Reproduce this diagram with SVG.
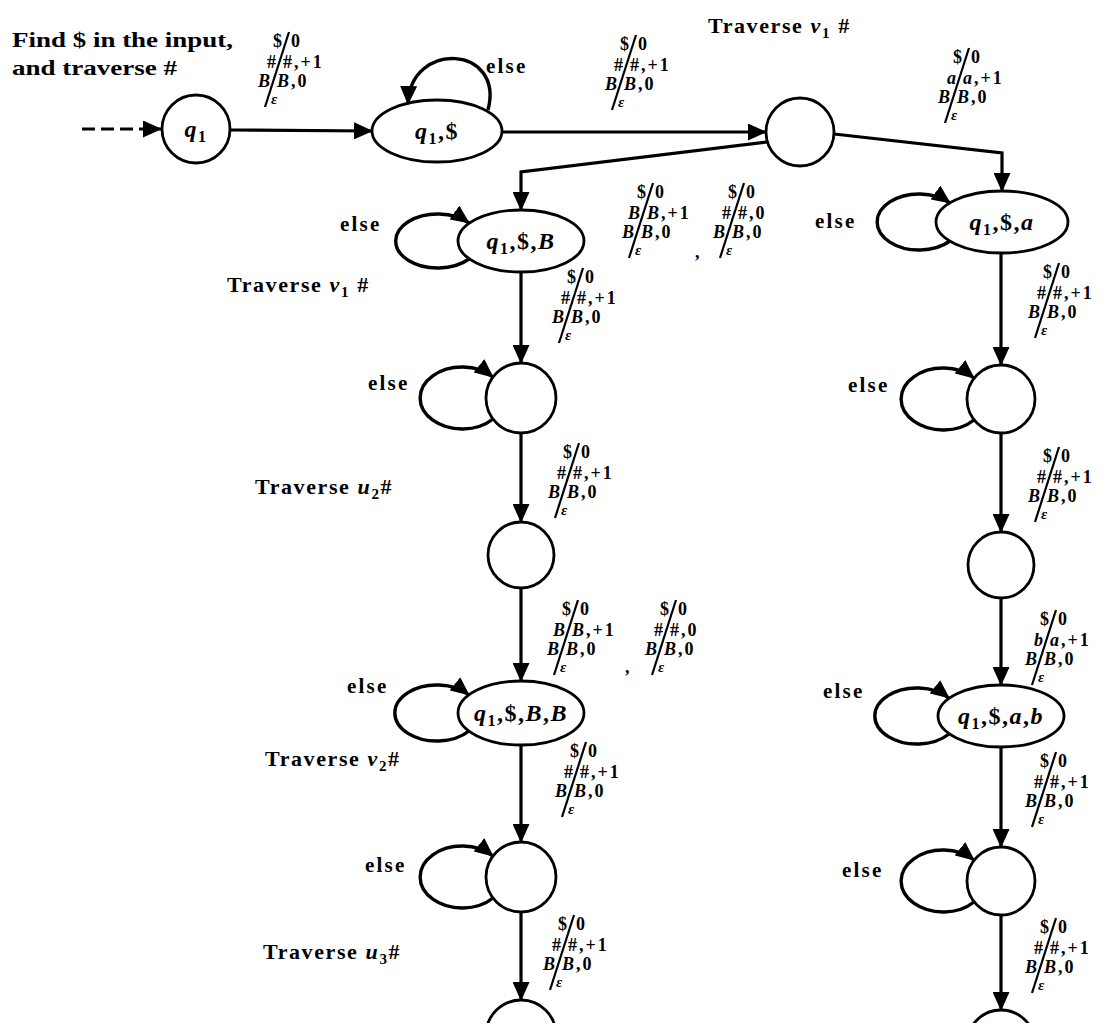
<svg xmlns="http://www.w3.org/2000/svg" width="1103" height="1023" viewBox="0 0 1103 1023">
<style>
.bg{fill:#fff}
.node{fill:#fff;stroke:#000;stroke-width:2.8}
.edge{fill:none;stroke:#000;stroke-width:3.2;marker-end:url(#ah)}
.loop{fill:none;stroke:#000;stroke-width:3.4;marker-end:url(#ah)}
.t{font-family:"Liberation Serif","Times New Roman",serif;font-weight:bold;fill:#000}
.lab{font-size:18px;letter-spacing:2px}
.eps{font-size:15px;font-style:italic}
.it{font-style:italic}
.nl{font-size:24px;letter-spacing:1.5px;text-anchor:middle}
.sl{stroke:#000;stroke-width:2.2}
.tr{font-size:22px;letter-spacing:1.6px}
.el{font-size:21px;letter-spacing:2.2px}
</style>
<defs>
<marker id="ah" markerWidth="19" markerHeight="17" refX="18" refY="8.5" orient="auto" markerUnits="userSpaceOnUse"><path d="M0,0 L19,8.5 L0,17 Z" fill="#000"/></marker>
</defs>
<rect class="bg" width="1103" height="1023"/>

<g id="texts" class="t">
<text x="12" y="47" font-size="22" textLength="221" lengthAdjust="spacingAndGlyphs">Find $ in the input,</text>
<text x="12" y="75" font-size="22" textLength="165" lengthAdjust="spacingAndGlyphs">and traverse #</text>
<text class="tr" x="708" y="33">Traverse <tspan class="it">v</tspan><tspan dy="5" font-size="15">1</tspan><tspan dy="-5"> #</tspan></text>
<text class="tr" x="227" y="292">Traverse <tspan class="it">v</tspan><tspan dy="5" font-size="15">1</tspan><tspan dy="-5"> #</tspan></text>
<text class="tr" x="255" y="494">Traverse <tspan class="it">u</tspan><tspan dy="5" font-size="15">2</tspan><tspan dy="-5">#</tspan></text>
<text class="tr" x="265" y="766">Traverse <tspan class="it">v</tspan><tspan dy="5" font-size="15">2</tspan><tspan dy="-5">#</tspan></text>
<text class="tr" x="263" y="959">Traverse <tspan class="it">u</tspan><tspan dy="5" font-size="15">3</tspan><tspan dy="-5">#</tspan></text>
<text class="el" x="486" y="73">else</text>
<text class="el" x="340" y="231">else</text>
<text class="el" x="815" y="228">else</text>
<text class="el" x="368" y="390">else</text>
<text class="el" x="848" y="392">else</text>
<text class="el" x="347" y="693">else</text>
<text class="el" x="823" y="698">else</text>
<text class="el" x="365" y="872">else</text>
<text class="el" x="842" y="877">else</text>
<text class="lab" x="695" y="258">,</text>
<text class="lab" x="625" y="673">,</text>
</g>

<g id="connectors">
<path class="edge" stroke-dasharray="13 6" d="M82,129 H161"/>
<path class="edge" d="M230,130 L372,131"/>
<path class="edge" d="M502,132 L766,132"/>
<path class="edge" d="M767,142 L521,172 L521,210"/>
<path class="edge" d="M834,134 L1002,153 L1002,191"/>
<path class="edge" d="M521,272 V363"/>
<path class="edge" d="M521,433 V522"/>
<path class="edge" d="M521,588 V681"/>
<path class="edge" d="M521,745 V842"/>
<path class="edge" d="M521,912 V1000"/>
<path class="edge" d="M1001,253 V365"/>
<path class="edge" d="M1001,433 V532"/>
<path class="edge" d="M1001,598 V685"/>
<path class="edge" d="M1001,747 V847"/>
<path class="edge" d="M1001,915 V1010"/>
<path class="loop" d="M488,110 C505,45 410,40 408,104"/>
<path class="loop" d="M469,259 A42 27 0 1 1 469,223"/>
<path class="loop" d="M469,731 A42 28 0 1 1 469,695"/>
<path class="loop" d="M950,241 A42 28 0 1 1 950,203"/>
<path class="loop" d="M949,734 A42 28 0 1 1 949,698"/>
<path class="loop" d="M493,419 A42 31 0 1 1 493,377"/>
<path class="loop" d="M493,898 A42 31 0 1 1 493,856"/>
<path class="loop" d="M974,420 A42 31 0 1 1 974,378"/>
<path class="loop" d="M974,902 A42 31 0 1 1 974,860"/>
</g>

<g id="labels" class="t lab">
<g id="lA" transform="translate(273,47)"><text x="0" y="0">$</text><text x="18" y="0">0</text><line class="sl" x1="16" y1="-15" x2="-8" y2="60"/><text x="5" y="21" text-anchor="end">#</text><text x="10" y="21">#,+1</text><text class="it" x="-1" y="40" text-anchor="end">B</text><text x="4" y="40"><tspan class="it">B</tspan>,0</text><text class="eps" x="-2" y="57">ε</text></g>
<g id="lB" transform="translate(620,50)"><text x="0" y="0">$</text><text x="18" y="0">0</text><line class="sl" x1="16" y1="-15" x2="-8" y2="60"/><text x="5" y="21" text-anchor="end">#</text><text x="10" y="21">#,+1</text><text class="it" x="-1" y="40" text-anchor="end">B</text><text x="4" y="40"><tspan class="it">B</tspan>,0</text><text class="eps" x="-2" y="57">ε</text></g>
<g id="lC" transform="translate(953,63)"><text x="0" y="0">$</text><text x="18" y="0">0</text><line class="sl" x1="16" y1="-15" x2="-8" y2="60"/><text class="it" x="5" y="21" text-anchor="end">a</text><text x="10" y="21"><tspan class="it">a</tspan>,+1</text><text class="it" x="-1" y="40" text-anchor="end">B</text><text x="4" y="40"><tspan class="it">B</tspan>,0</text><text class="eps" x="-2" y="57">ε</text></g>
<g id="lD" transform="translate(637,198)"><text x="0" y="0">$</text><text x="18" y="0">0</text><line class="sl" x1="16" y1="-15" x2="-8" y2="60"/><text class="it" x="5" y="21" text-anchor="end">B</text><text x="10" y="21"><tspan class="it">B</tspan>,+1</text><text class="it" x="-1" y="40" text-anchor="end">B</text><text x="4" y="40"><tspan class="it">B</tspan>,0</text><text class="eps" x="-2" y="57">ε</text></g>
<g id="lE" transform="translate(728,198)"><text x="0" y="0">$</text><text x="18" y="0">0</text><line class="sl" x1="16" y1="-15" x2="-8" y2="60"/><text x="5" y="21" text-anchor="end">#</text><text x="10" y="21">#,0</text><text class="it" x="-1" y="40" text-anchor="end">B</text><text x="4" y="40"><tspan class="it">B</tspan>,0</text><text class="eps" x="-2" y="57">ε</text></g>
<g id="lF" transform="translate(567,283)"><text x="0" y="0">$</text><text x="18" y="0">0</text><line class="sl" x1="16" y1="-15" x2="-8" y2="60"/><text x="5" y="21" text-anchor="end">#</text><text x="10" y="21">#,+1</text><text class="it" x="-1" y="40" text-anchor="end">B</text><text x="4" y="40"><tspan class="it">B</tspan>,0</text><text class="eps" x="-2" y="57">ε</text></g>
<g id="lG" transform="translate(1043,278)"><text x="0" y="0">$</text><text x="18" y="0">0</text><line class="sl" x1="16" y1="-15" x2="-8" y2="60"/><text x="5" y="21" text-anchor="end">#</text><text x="10" y="21">#,+1</text><text class="it" x="-1" y="40" text-anchor="end">B</text><text x="4" y="40"><tspan class="it">B</tspan>,0</text><text class="eps" x="-2" y="57">ε</text></g>
<g id="lH" transform="translate(563,458)"><text x="0" y="0">$</text><text x="18" y="0">0</text><line class="sl" x1="16" y1="-15" x2="-8" y2="60"/><text x="5" y="21" text-anchor="end">#</text><text x="10" y="21">#,+1</text><text class="it" x="-1" y="40" text-anchor="end">B</text><text x="4" y="40"><tspan class="it">B</tspan>,0</text><text class="eps" x="-2" y="57">ε</text></g>
<g id="lI" transform="translate(1043,462)"><text x="0" y="0">$</text><text x="18" y="0">0</text><line class="sl" x1="16" y1="-15" x2="-8" y2="60"/><text x="5" y="21" text-anchor="end">#</text><text x="10" y="21">#,+1</text><text class="it" x="-1" y="40" text-anchor="end">B</text><text x="4" y="40"><tspan class="it">B</tspan>,0</text><text class="eps" x="-2" y="57">ε</text></g>
<g id="lJ" transform="translate(562,615)"><text x="0" y="0">$</text><text x="18" y="0">0</text><line class="sl" x1="16" y1="-15" x2="-8" y2="60"/><text class="it" x="5" y="21" text-anchor="end">B</text><text x="10" y="21"><tspan class="it">B</tspan>,+1</text><text class="it" x="-1" y="40" text-anchor="end">B</text><text x="4" y="40"><tspan class="it">B</tspan>,0</text><text class="eps" x="-2" y="57">ε</text></g>
<g id="lK" transform="translate(660,615)"><text x="0" y="0">$</text><text x="18" y="0">0</text><line class="sl" x1="16" y1="-15" x2="-8" y2="60"/><text x="5" y="21" text-anchor="end">#</text><text x="10" y="21">#,0</text><text class="it" x="-1" y="40" text-anchor="end">B</text><text x="4" y="40"><tspan class="it">B</tspan>,0</text><text class="eps" x="-2" y="57">ε</text></g>
<g id="lL" transform="translate(1040,625)"><text x="0" y="0">$</text><text x="18" y="0">0</text><line class="sl" x1="16" y1="-15" x2="-8" y2="60"/><text class="it" x="5" y="21" text-anchor="end">b</text><text x="10" y="21"><tspan class="it">a</tspan>,+1</text><text class="it" x="-1" y="40" text-anchor="end">B</text><text x="4" y="40"><tspan class="it">B</tspan>,0</text><text class="eps" x="-2" y="57">ε</text></g>
<g id="lM" transform="translate(570,757)"><text x="0" y="0">$</text><text x="18" y="0">0</text><line class="sl" x1="16" y1="-15" x2="-8" y2="60"/><text x="5" y="21" text-anchor="end">#</text><text x="10" y="21">#,+1</text><text class="it" x="-1" y="40" text-anchor="end">B</text><text x="4" y="40"><tspan class="it">B</tspan>,0</text><text class="eps" x="-2" y="57">ε</text></g>
<g id="lN" transform="translate(1040,767)"><text x="0" y="0">$</text><text x="18" y="0">0</text><line class="sl" x1="16" y1="-15" x2="-8" y2="60"/><text x="5" y="21" text-anchor="end">#</text><text x="10" y="21">#,+1</text><text class="it" x="-1" y="40" text-anchor="end">B</text><text x="4" y="40"><tspan class="it">B</tspan>,0</text><text class="eps" x="-2" y="57">ε</text></g>
<g id="lO" transform="translate(558,930)"><text x="0" y="0">$</text><text x="18" y="0">0</text><line class="sl" x1="16" y1="-15" x2="-8" y2="60"/><text x="5" y="21" text-anchor="end">#</text><text x="10" y="21">#,+1</text><text class="it" x="-1" y="40" text-anchor="end">B</text><text x="4" y="40"><tspan class="it">B</tspan>,0</text><text class="eps" x="-2" y="57">ε</text></g>
<g id="lP" transform="translate(1040,933)"><text x="0" y="0">$</text><text x="18" y="0">0</text><line class="sl" x1="16" y1="-15" x2="-8" y2="60"/><text x="5" y="21" text-anchor="end">#</text><text x="10" y="21">#,+1</text><text class="it" x="-1" y="40" text-anchor="end">B</text><text x="4" y="40"><tspan class="it">B</tspan>,0</text><text class="eps" x="-2" y="57">ε</text></g>
</g>

<g id="n_q1"><circle class="node" cx="196" cy="129" r="34"/><text class="t nl" x="196" y="137"><tspan class="it">q</tspan><tspan dy="5" font-size="16">1</tspan></text></g>
<g id="n_q1S"><ellipse class="node" cx="437" cy="131" rx="65" ry="31"/><text class="t nl" x="437" y="139"><tspan class="it">q</tspan><tspan dy="5" font-size="16">1</tspan><tspan dy="-5">,$</tspan></text></g>
<g id="n_mid"><circle class="node" cx="800" cy="132" r="34"/></g>
<g id="n_q1SB"><ellipse class="node" cx="521" cy="241" rx="63" ry="31"/><text class="t nl" x="521" y="249"><tspan class="it">q</tspan><tspan dy="5" font-size="16">1</tspan><tspan dy="-5">,$,</tspan><tspan class="it">B</tspan></text></g>
<g id="n_L2"><circle class="node" cx="521" cy="398" r="35"/></g>
<g id="n_L3"><circle class="node" cx="521" cy="555" r="33"/></g>
<g id="n_q1SBB"><ellipse class="node" cx="521" cy="713" rx="63" ry="32"/><text class="t nl" x="521" y="721"><tspan class="it">q</tspan><tspan dy="5" font-size="16">1</tspan><tspan dy="-5">,$,</tspan><tspan class="it">B</tspan>,<tspan class="it">B</tspan></text></g>
<g id="n_L4"><circle class="node" cx="521" cy="877" r="35"/></g>
<g id="n_L5"><circle class="node" cx="521" cy="1035" r="35"/></g>
<g id="n_q1Sa"><ellipse class="node" cx="1002" cy="222" rx="66" ry="31"/><text class="t nl" x="1002" y="230"><tspan class="it">q</tspan><tspan dy="5" font-size="16">1</tspan><tspan dy="-5">,$,</tspan><tspan class="it">a</tspan></text></g>
<g id="n_R2"><circle class="node" cx="1001" cy="399" r="34"/></g>
<g id="n_R3"><circle class="node" cx="1001" cy="565" r="33"/></g>
<g id="n_q1Sab"><ellipse class="node" cx="1001" cy="716" rx="63" ry="31"/><text class="t nl" x="1001" y="724"><tspan class="it">q</tspan><tspan dy="5" font-size="16">1</tspan><tspan dy="-5">,$,</tspan><tspan class="it">a</tspan>,<tspan class="it">b</tspan></text></g>
<g id="n_R4"><circle class="node" cx="1001" cy="881" r="34"/></g>
<g id="n_R5"><circle class="node" cx="1001" cy="1044" r="34"/></g>
</svg>
